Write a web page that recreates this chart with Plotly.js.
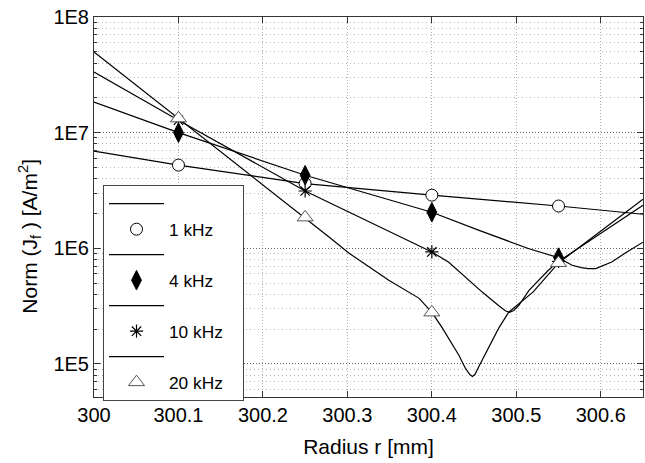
<!DOCTYPE html>
<html>
<head>
<meta charset="utf-8">
<script src="https://cdn.plot.ly/plotly-3.0.1.min.js"></script>
<style>html,body{margin:0;padding:0;background:#fff;}#plot{width:645px;height:463px;}</style>
</head>
<body>
<div id="plot"></div>
<script>
// ---- data ----
const markerX = [300.1, 300.25, 300.4, 300.55];
const mark1k  = [5.24e6, 3.63e6, 2.88e6, 2.32e6];
const mark4k  = [1.0e7, 4.28e6, 2.05e6, 8.3e5];
const mark10k = [1.28e7, 3.13e6, 9.3e5, 7.7e5];
const mark20k = [1.33e7, 1.85e6, 2.79e5, 7.47e5];

const line1kX = [300, 300.1, 300.25, 300.4, 300.55, 300.65];
const line1kY = [6.92e6, 5.24e6, 3.63e6, 2.88e6, 2.32e6, 1.97e6];

const line4kX = [300, 300.1, 300.25, 300.4, 300.456, 300.515, 300.55, 300.566, 300.577, 300.585, 300.594, 300.613, 300.63, 300.65];
const line4kY = [1.84e7, 1.0e7, 4.28e6, 2.05e6, 1.43e6, 9.9e5, 8.3e5, 7.13e5, 6.8e5, 6.67e5, 6.67e5, 7.6e5, 9.2e5, 1.13e6];

const line10kX = [300, 300.1, 300.25, 300.4, 300.42, 300.44, 300.46, 300.48, 300.487, 300.492, 300.497, 300.503, 300.515, 300.538, 300.55, 300.65];
const line10kY = [3.34e7, 1.28e7, 3.13e6, 9.3e5, 7.57e5, 5.61e5, 4.16e5, 3.15e5, 2.88e5, 2.79e5, 2.9e5, 3.21e5, 4.32e5, 6.46e5, 7.7e5, 2.35e6];

const line20kX = [300, 300.1, 300.25, 300.279, 300.302, 300.349, 300.385, 300.4, 300.412, 300.432, 300.44, 300.445, 300.448, 300.451, 300.456, 300.4675, 300.479, 300.491, 300.52, 300.55, 300.65];
const line20kY = [4.98e7, 1.33e7, 1.85e6, 1.24e6, 9.06e5, 5.28e5, 3.69e5, 2.79e5, 2.07e5, 1.19e5, 9.1e4, 8.1e4, 7.8e4, 8.1e4, 9.6e4, 1.40e5, 2.03e5, 2.8e5, 4.2e5, 7.47e5, 2.65e6];

const labels = ['1 kHz', '4 kHz', '10 kHz', '20 kHz'];
const xTicks = [300, 300.1, 300.2, 300.3, 300.4, 300.5, 300.6];
const xTickText = ['300', '300.1', '300.2', '300.3', '300.4', '300.5', '300.6'];
const yTicks = [1e5, 1e6, 1e7, 1e8];
const yTickText = ['1E5', '1E6', '1E7', '1E8'];
const yMinor = [];
[1e4, 1e5, 1e6, 1e7].forEach(d => { for (let k = 2; k <= 9; k++) yMinor.push(k * d); });

const FONT = 'Liberation Sans, Arial, Helvetica, sans-serif';
const lineStyle = {color: '#000', width: 1.2};
const PAD = '\u00a0\u00a0\u00a0';

function lineTrace(x, y, rank) {
  return {x: x, y: y, mode: 'lines', line: lineStyle, name: '', showlegend: true,
          legendrank: rank, hoverinfo: 'skip'};
}
function markTrace(x, y, name, marker, rank) {
  return {x: x, y: y, mode: 'markers', marker: marker, name: name + PAD, legendrank: rank, hoverinfo: 'skip'};
}

const traces = [
  lineTrace(line1kX, line1kY, 1),
  lineTrace(line4kX, line4kY, 3),
  lineTrace(line10kX, line10kY, 5),
  lineTrace(line20kX, line20kY, 7),
  markTrace(markerX, mark1k, labels[0], {symbol: 'circle', size: 12, color: '#fff', line: {color: '#000', width: 1}}, 2),
  markTrace(markerX, mark4k, labels[1], {symbol: 'diamond-tall', size: 14, color: '#000', line: {color: '#000', width: 1}}, 4),
  markTrace(markerX, mark10k, labels[2], {symbol: 'asterisk-open', size: 11, color: '#000', line: {color: '#000', width: 1.2}}, 6),
  markTrace(markerX, mark20k, labels[3], {symbol: 'triangle-up', size: 14, color: '#fff', line: {color: '#555', width: 1}}, 8)
];

const layout = {
  width: 645, height: 463,
  margin: {l: 94, r: 2, t: 17, b: 66},
  paper_bgcolor: '#fff', plot_bgcolor: '#fff',
  font: {family: FONT, size: 20, color: '#000'},
  showlegend: true,
  legend: {x: 0.0164, y: 0.558, xanchor: 'left', yanchor: 'top',
           bgcolor: '#fff', bordercolor: '#444', borderwidth: 1,
           font: {family: FONT, size: 17.3, color: '#000'}, itemwidth: 55,
           traceorder: 'normal'},
  xaxis: {range: [300, 300.65], tickmode: 'array', tickvals: xTicks, ticktext: xTickText,
          ticks: 'inside', ticklen: 6, tickcolor: '#333', showline: true, linecolor: '#333', linewidth: 1,
          mirror: 'allticks', showgrid: true, gridcolor: '#b0b0b0', griddash: '1px,2px', gridwidth: 1,
          zeroline: false, tickfont: {size: 20},
          title: {text: 'Radius r [mm]', font: {size: 21}, standoff: 14}},
  yaxis: {type: 'log', range: [4.714, 8], tickmode: 'array', tickvals: yTicks, ticktext: yTickText,
          ticks: 'inside', ticklen: 6, tickcolor: '#333', showline: true, linecolor: '#333', linewidth: 1,
          mirror: 'allticks', showgrid: true, gridcolor: '#666', griddash: '1px,2px', gridwidth: 1,
          zeroline: false, tickfont: {size: 20},
          minor: {tickmode: 'array', tickvals: yMinor, ticks: 'inside', ticklen: 3, tickcolor: '#333',
                  showgrid: true, gridcolor: '#b8b8b8', griddash: '1px,3px', gridwidth: 1}},
  annotations: [{
    text: 'Norm\u00a0(J<sub>f</sub>\u00a0)\u00a0[A/m<sup>2</sup>]',
    xref: 'paper', yref: 'paper', x: -0.117, y: 0.424, xanchor: 'center', yanchor: 'middle',
    textangle: -90, showarrow: false, font: {family: FONT, size: 21, color: '#000'}
  }]
};

Plotly.newPlot('plot', traces, layout, {displayModeBar: false, staticPlot: true});
</script>
</body>
</html>
